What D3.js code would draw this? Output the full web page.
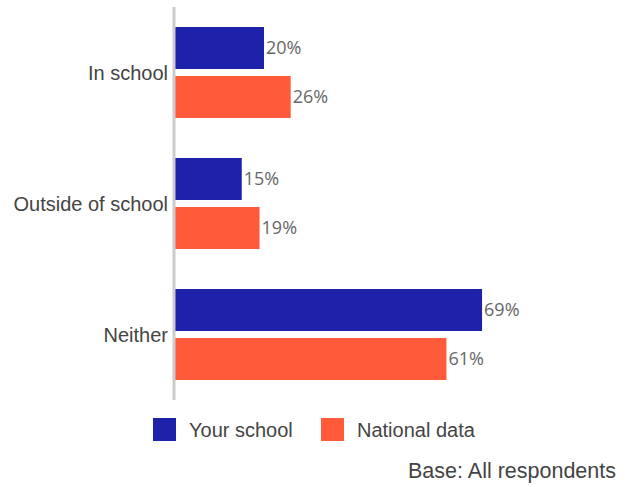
<!DOCTYPE html>
<html><head><meta charset="utf-8">
<script src="https://cdn.jsdelivr.net/npm/d3@7"></script>
<style>body{margin:0;background:#fff}svg{display:block}</style>
</head><body>
<svg id="c" width="634" height="487"></svg>
<script>
const categories = ["In school", "Outside of school", "Neither"];
const seriesNames = ["Your school", "National data"];
const yourSchool = [20, 15, 69];
const nationalData = [26, 19, 61];
const colors = ["#1e22aa", "#ff5b3b"];
const baseNote = "Base: All respondents";

const svg = d3.select("#c");
const x = d3.scaleLinear().domain([0, 100]).range([175, 620]);
const p = 40/131;
const y0 = d3.scaleBand().domain(categories).range([7, 400]).paddingInner(p).paddingOuter(p/2);
const y1 = d3.scaleBand().domain(seriesNames).range([0, y0.bandwidth()]).paddingInner(7/49);

const data = categories.map((c, i) => ({cat: c, vals: [yourSchool[i], nationalData[i]]}));

const g = svg.selectAll("g.grp").data(data).join("g").attr("class","grp")
  .attr("transform", d => `translate(0,${y0(d.cat)})`);

g.selectAll("rect").data(d => d.vals.map((v, j) => ({v, s: seriesNames[j], j})))
  .join("rect")
  .attr("x", x(0)).attr("y", d => y1(d.s))
  .attr("width", d => x(d.v) - x(0)).attr("height", y1.bandwidth())
  .attr("fill", d => colors[d.j]);

g.selectAll("text.val").data(d => d.vals.map((v, j) => ({v, s: seriesNames[j], j})))
  .join("text").attr("class","val")
  .attr("x", d => x(d.v) + 2).attr("y", d => y1(d.s) + y1.bandwidth()/2)
  .attr("dy", "0.36em")
  .attr("font-family", "'Open Sans', sans-serif").attr("font-size", 18)
  .attr("fill", "#666").text(d => d.v + "%");

// axis
const axis = d3.axisLeft(y0).tickSize(0).tickPadding(6);
const ag = svg.append("g").attr("transform", `translate(${x(0)-1},0)`).call(axis);
ag.select(".domain").attr("stroke", "#cccccc").attr("stroke-width", 3).attr("d", "M0,7V400");
ag.selectAll("text").attr("font-family", "'Liberation Sans', Arial, sans-serif")
  .attr("font-size", 20).attr("fill", "#444").attr("x", -6).attr("dy", "0.38em");

// legend
const legX = [153, 321];
const lg = svg.selectAll("g.leg").data(seriesNames).join("g").attr("class","leg")
  .attr("transform", (d, i) => `translate(${legX[i]},418)`);
lg.append("rect").attr("width", 23).attr("height", 23).attr("fill", (d, i) => colors[i]);
lg.append("text").attr("x", 36).attr("y", 12).attr("dy", "0.33em")
  .attr("font-family", "'Liberation Sans', Arial, sans-serif").attr("font-size", 20)
  .attr("fill", "#444").text(d => d);

svg.append("text").attr("x", 616).attr("y", 478).attr("text-anchor", "end")
  .attr("font-family", "'Liberation Sans', Arial, sans-serif").attr("font-size", 21.5)
  .attr("fill", "#444").text(baseNote);
</script>
</body></html>
